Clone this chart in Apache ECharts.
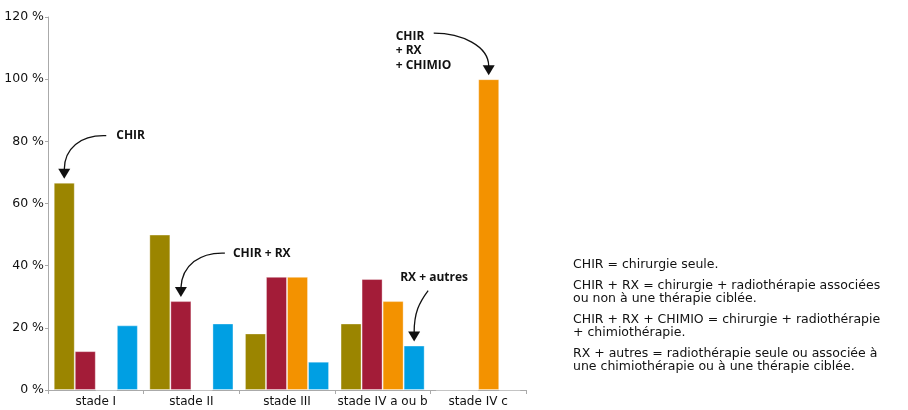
<!DOCTYPE html>
<html><head><meta charset="utf-8">
<script src="https://cdn.jsdelivr.net/npm/echarts@6/dist/echarts.min.js"></script>
<style>html,body{margin:0;padding:0;background:#fff}#c{width:908px;height:410px}</style>
</head><body><div id="c"></div>
<script>
const categories = ['stade I', 'stade II', 'stade III', 'stade IV a ou b', 'stade IV c'];
const seriesNames = ['CHIR', 'CHIR + RX', 'CHIR + RX + CHIMIO', 'RX + autres'];
const chir = [66.7, 50.0, 18.2, 21.4, 0];
const chirRx = [12.5, 28.6, 36.4, 35.7, 0];
const chirRxChimio = [0, 0, 36.4, 28.6, 100];
const rxAutres = [20.8, 21.4, 9.1, 14.3, 0];
const yTicks = [0, 20, 40, 60, 80, 100, 120];
const notes = [
  'CHIR = chirurgie seule.',
  'CHIR + RX = chirurgie + radiothérapie associées\nou non à une thérapie ciblée.',
  'CHIR + RX + CHIMIO = chirurgie + radiothérapie\n+ chimiothérapie.',
  'RX + autres = radiothérapie seule ou associée à\nune chimiothérapie ou à une thérapie ciblée.'
];
// annotations: series index, category index, label text
const annots = [
  {s: 0, c: 0, text: 'CHIR'},
  {s: 1, c: 1, text: 'CHIR + RX'},
  {s: 3, c: 3, text: 'RX + autres'},
  {s: 2, c: 4, text: 'CHIR\n+ RX\n+ CHIMIO'}
];
const colors = ['#9B8500', '#A31C38', '#F39200', '#009FE3'];
const FONT = '"DejaVu Sans", "Noto Sans", sans-serif';
const BFONT = '"Open Sans", "Noto Sans", sans-serif';

const chart = echarts.init(document.getElementById('c'), null, {renderer: 'canvas'});
const dataSets = [chir, chirRx, chirRxChimio, rxAutres];
chart.setOption({
  animation: false,
  grid: {left: 48, right: 382, top: 17, bottom: 20, containLabel: false},
  xAxis: {
    type: 'category', data: categories,
    axisLine: {lineStyle: {color: '#aaaaaa', width: 1}},
    axisTick: {show: true, length: 4, lineStyle: {color: '#aaaaaa'}},
    axisLabel: {color: '#111', fontSize: 12, fontFamily: FONT, margin: 6, interval: 0}
  },
  yAxis: {
    type: 'value', min: 0, max: 120, interval: 20,
    axisLine: {show: true, lineStyle: {color: '#aaaaaa', width: 1}},
    axisTick: {show: true, length: 3, lineStyle: {color: '#aaaaaa'}},
    splitLine: {show: false},
    axisLabel: {color: '#111', fontSize: 12.5, fontFamily: FONT, margin: 4,
      formatter: v => yTicks.includes(v) ? v + ' %' : ''}
  },
  series: dataSets.map((d, i) => ({
    name: seriesNames[i], type: 'bar', data: d,
    barGap: '0%', barCategoryGap: '12%',
    itemStyle: {color: colors[i], borderColor: 'rgba(255,255,255,0.35)', borderWidth: 1}
  }))
});

// annotations positioned from the bar layouts
const graphics = [];
const offsets = [
  {sx: 42, sy: -43, c1: [16, -44], c2: [0, -30], lx: 52, ly: -43},
  {sx: 44, sy: -44, c1: [19, -45], c2: [1, -32], lx: 52, ly: -44},
  {sx: 14, sy: -51, c1: [5, -39], c2: [0, -29], lx: -14, ly: -64},
  {sx: -55, sy: -42, c1: [-27, -42], c2: [0, -29], lx: -93, ly: -46}
];
annots.forEach((a, k) => {
  const lay = chart.getModel().getSeriesByIndex(a.s).getData().getItemLayout(a.c);
  const tx = lay.x + lay.width / 2;
  const ty = Math.min(lay.y, lay.y + lay.height) - 4;
  const o = offsets[k];
  const headH = 10, headW = 6;
  graphics.push({
    type: 'bezierCurve', silent: true,
    shape: {x1: tx + o.sx, y1: ty + o.sy, cpx1: tx + o.c1[0], cpy1: ty + o.c1[1],
            cpx2: tx + o.c2[0], cpy2: ty + o.c2[1], x2: tx, y2: ty - headH + 1},
    style: {stroke: '#111', lineWidth: 1.3, fill: null}
  });
  graphics.push({
    type: 'polygon', silent: true,
    shape: {points: [[tx - headW, ty - headH], [tx + headW, ty - headH], [tx, ty]]},
    style: {fill: '#111'}
  });
  const lines = a.text.split('\n');
  graphics.push({
    type: 'text', silent: true,
    x: tx + o.lx, y: ty + o.ly,
    style: {text: a.text, fill: '#111', font: 'bold 12px ' + BFONT,
            lineHeight: 14.5, verticalAlign: lines.length > 1 ? 'top' : 'middle', align: 'left'}
  });
});
// notes block
let ny = 258;
notes.forEach(n => {
  const cnt = n.split('\n').length;
  graphics.push({
    type: 'text', silent: true, x: 573, y: ny,
    style: {text: n, fill: '#111', font: '12.5px ' + FONT, lineHeight: 13.5, verticalAlign: 'top'}
  });
  ny += cnt * 13.5 + 7;
});
chart.setOption({graphic: graphics});
</script></body></html>
